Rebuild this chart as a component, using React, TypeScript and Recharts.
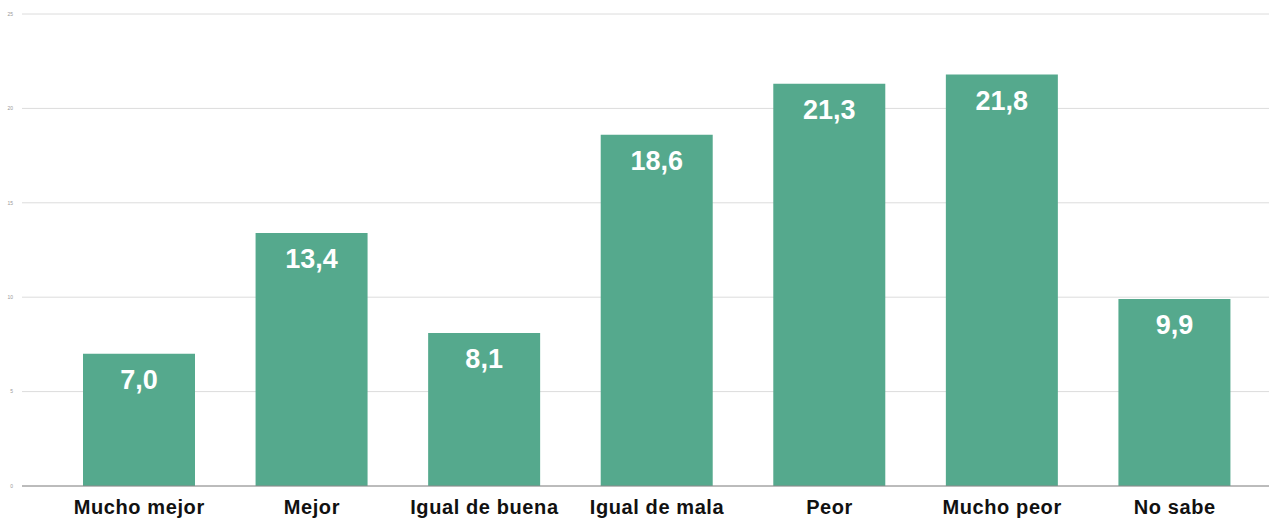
import { BarChart, Bar, XAxis, YAxis, CartesianGrid, LabelList } from "recharts";

const CATEGORIES = ["Mucho mejor", "Mejor", "Igual de buena", "Igual de mala", "Peor", "Mucho peor", "No sabe"];
const VALUES = [7.0, 13.4, 8.1, 18.6, 21.3, 21.8, 9.9];
const Y_TICKS = [0, 5, 10, 15, 20, 25];

const data = CATEGORIES.map((name, i) => ({ name, value: VALUES[i] }));

export default function App() {
  return (
    <div style={{ position: "absolute", left: 0, top: 0, background: "#fff", fontFamily: "'Liberation Sans', Arial, sans-serif" }}>
      <BarChart width={1269} height={518} data={data} margin={{ top: 14, right: 0, left: 0, bottom: 0 }} barCategoryGap={0}>
        <CartesianGrid stroke="#dcdcdc" vertical={false} />
        <YAxis
          domain={[0, 25]}
          ticks={Y_TICKS}
          width={22}
          tickLine={false}
          axisLine={false}
          tick={{ fontSize: 5, fill: "#999" }}
          tickMargin={3}
        />
        <XAxis
          dataKey="name"
          height={32}
          tickLine={false}
          axisLine={{ stroke: "#8a8a8a" }}
          padding={{ left: 31, right: 8 }}
          interval={0}
          tick={{ fontSize: 20, fontWeight: 700, fill: "#111", letterSpacing: 0.6 }}
          tickMargin={8}
        />
        <Bar dataKey="value" fill="#55a98d" barSize={112} isAnimationActive={false}>
          <LabelList
            dataKey="value"
            position="insideTop"
            offset={16}
            formatter={(v: number) => v.toFixed(1).replace(".", ",")}
            style={{ fontSize: 27, fontWeight: 700, fill: "#fff" }}
          />
        </Bar>
      </BarChart>
    </div>
  );
}
